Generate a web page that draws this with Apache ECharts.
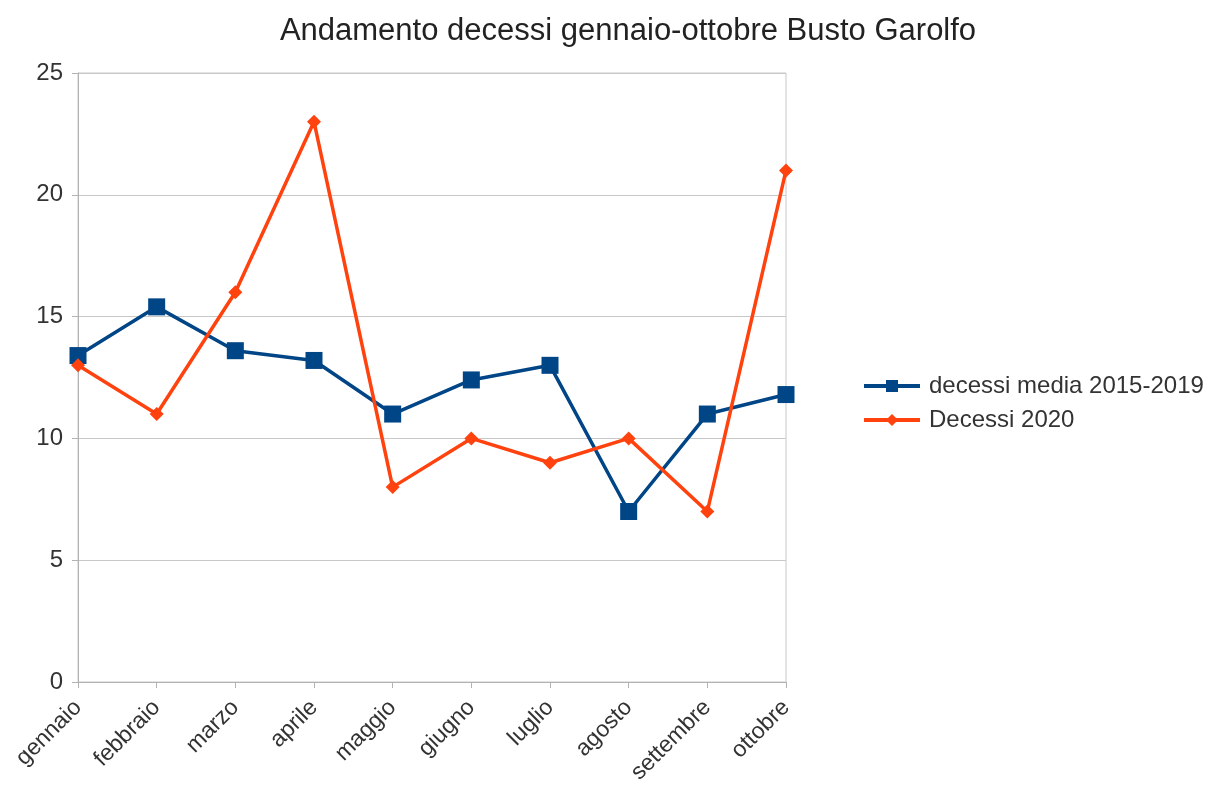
<!DOCTYPE html>
<html>
<head>
<meta charset="utf-8">
<title>Andamento decessi Busto Garolfo</title>
<script src="https://cdn.jsdelivr.net/npm/echarts@6/dist/echarts.min.js"></script>
<style>
  html, body { margin: 0; padding: 0; background: #fff; }
  #chart { width: 1216px; height: 787px; }
</style>
</head>
<body>
<div id="chart"></div>
<script>
// dati
var mesi = ['gennaio', 'febbraio', 'marzo', 'aprile', 'maggio', 'giugno', 'luglio', 'agosto', 'settembre', 'ottobre'];
var mediaDecessi = [13.4, 15.4, 13.6, 13.2, 11.0, 12.4, 13.0, 7.0, 11.0, 11.8];
var decessi2020 = [13, 11, 16, 23, 8, 10, 9, 10, 7, 21];

var myChart = echarts.init(document.getElementById('chart'));

var font = '"Liberation Sans", Arial, sans-serif';

myChart.setOption({
    animation: false,
    textStyle: { fontFamily: font },
    title: {
        text: 'Andamento decessi gennaio-ottobre Busto Garolfo',
        left: 623,
        top: 11,
        textAlign: 'center',
        textStyle: { fontFamily: font, fontSize: 31, fontWeight: 'normal', color: '#222' }
    },
    legend: {
        orient: 'vertical',
        left: 857,
        top: 369,
        itemWidth: 56,
        itemHeight: 15,
        itemGap: 10,
        lineStyle: { width: 4 },
        textStyle: { fontFamily: font, fontSize: 24, color: '#333', padding: [0, 0, 0, 4] },
        data: ['decessi media 2015-2019', 'Decessi 2020']
    },
    grid: {
        left: 78,
        right: 430,
        top: 73,
        bottom: 105,
        show: true,
        borderColor: '#c8c8c8',
        borderWidth: 1
    },
    xAxis: {
        type: 'category',
        boundaryGap: false,
        data: mesi,
        axisLine: { lineStyle: { color: '#b3b3b3' } },
        axisTick: { show: true, alignWithLabel: true, length: 6, lineStyle: { color: '#b3b3b3' } },
        axisLabel: { rotate: 45, fontSize: 23, color: '#333', margin: 22, fontFamily: font }
    },
    yAxis: {
        type: 'value',
        min: 0,
        max: 25,
        interval: 5,
        axisLine: { show: true, lineStyle: { color: '#b3b3b3' } },
        axisTick: { show: true, length: 6, lineStyle: { color: '#b3b3b3' } },
        axisLabel: { fontSize: 24, color: '#333', margin: 15, fontFamily: font },
        splitLine: { lineStyle: { color: '#c8c8c8' } }
    },
    series: [
        {
            name: 'decessi media 2015-2019',
            type: 'line',
            data: mediaDecessi,
            symbol: 'rect',
            symbolSize: 17,
            color: '#004586',
            lineStyle: { width: 3.5, color: '#004586' },
            itemStyle: { color: '#004586' }
        },
        {
            name: 'Decessi 2020',
            type: 'line',
            data: decessi2020,
            symbol: 'diamond',
            symbolSize: 14,
            color: '#ff420e',
            lineStyle: { width: 3.5, color: '#ff420e' },
            itemStyle: { color: '#ff420e' }
        }
    ]
});
</script>
</body>
</html>
